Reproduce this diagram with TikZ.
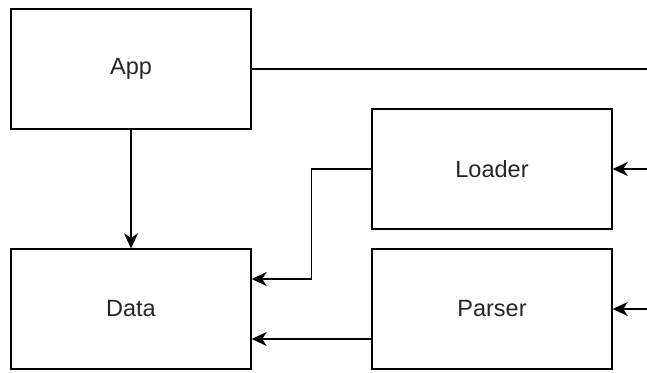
\documentclass[tikz,border=0pt]{standalone}
\usepackage{fontspec}
\setmainfont{Liberation Sans}
\usetikzlibrary{arrows.meta}
\begin{document}
\begin{tikzpicture}[x=1pt,y=-1pt,
  box/.style={draw=black, line width=1.4pt, fill=white,
    minimum width=240pt, minimum height=120pt, inner sep=0pt,
    font=\fontsize{23.5}{27}\selectfont, text=black!85},
  link/.style={draw=black, line width=1.4pt},
  arr/.style={link, -{Stealth[length=15pt,width=14pt,inset=4.5pt]}}]
\useasboundingbox (0,0) rectangle (647,372);
% boxes
\node[box] (app)    at (131,69)  {App};
\node[box] (data)   at (131,309) {Data};
\node[box] (loader) at (492,169) {Loader};
\node[box] (parser) at (492,309) {Parser};
% free ends at the right margin
\coordinate (outA) at (647,69);
\coordinate (inL)  at (647,169);
\coordinate (inP)  at (647,309);
% connectors
\draw[link] (app.east) -- (outA);
\draw[arr] (inL) -- (loader.east);
\draw[arr] (inP) -- (parser.east);
\draw[arr] (app.south) -- (data.north);
\draw[arr] (loader.west) -- ++(-60,0) |- ([yshift=30pt]data.east);
\draw[arr] ([yshift=-30pt]parser.west) -- ([yshift=-30pt]data.east);
\end{tikzpicture}
\end{document}
